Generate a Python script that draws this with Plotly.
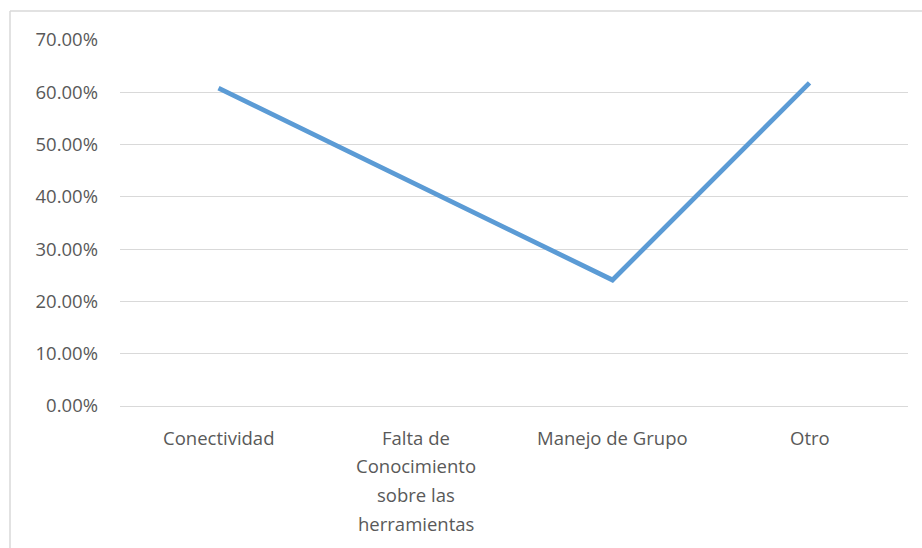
import plotly.graph_objects as go

categories = ["Conectividad", "Falta de Conocimiento sobre las herramientas", "Manejo de Grupo", "Otro"]
category_label_lines = [
    ["Conectividad"],
    ["Falta de", "Conocimiento", "sobre las", "herramientas"],
    ["Manejo de Grupo"],
    ["Otro"],
]
values = [0.608, 0.425, 0.241, 0.618]
y_ticks = [0, 0.1, 0.2, 0.3, 0.4, 0.5, 0.6, 0.7]
y_tick_labels = ["0.00%", "10.00%", "20.00%", "30.00%", "40.00%", "50.00%", "60.00%", "70.00%"]

W, H = 922, 548
L, R, T, B = 120, 14, 40, 142
pw, ph = W - L - R, H - T - B

fig = go.Figure()
fig.add_trace(go.Scatter(
    x=categories, y=values, mode="lines",
    line=dict(color="#5B9BD5", width=4.8),
    hoverinfo="skip", showlegend=False,
))

font = dict(family="Open Sans, Noto Sans, sans-serif", size=18.5, color="#595959")

annotations = []
line_gap = 28.7
for cat, lines in zip(categories, category_label_lines):
    for i, txt in enumerate(lines):
        annotations.append(dict(
            x=cat, y=0, xref="x", yref="y", text=txt, showarrow=False,
            xanchor="center", yanchor="middle", font=font,
            yshift=-(31 + i * line_gap),
        ))

fig.update_layout(
    width=W, height=H,
    margin=dict(l=L, r=R, t=T, b=B),
    paper_bgcolor="white", plot_bgcolor="white",
    font=font,
    xaxis=dict(
        type="category", range=[-0.5, 3.5],
        showgrid=False, showline=True, linecolor="#D9D9D9", linewidth=1,
        ticks="", showticklabels=False, zeroline=False,
    ),
    yaxis=dict(
        range=[0, 0.7], tickvals=y_ticks, ticktext=y_tick_labels,
        showgrid=True, gridcolor="#D9D9D9", gridwidth=1,
        zeroline=False, showline=False, ticks="",
        tickfont=font, ticklabelstandoff=21,
    ),
    annotations=annotations,
    shapes=[
        dict(type="line", xref="paper", yref="paper",
             x0=(10 - L) / pw, x1=(10 - L) / pw, y0=-2, y1=(H - B - 11) / ph,
             line=dict(color="#D9D9D9", width=1.5)),
        dict(type="line", xref="paper", yref="paper",
             x0=(10 - L) / pw, x1=2, y0=(H - B - 11) / ph, y1=(H - B - 11) / ph,
             line=dict(color="#D9D9D9", width=1.5)),
    ],
)

fig.write_html("out.html")
